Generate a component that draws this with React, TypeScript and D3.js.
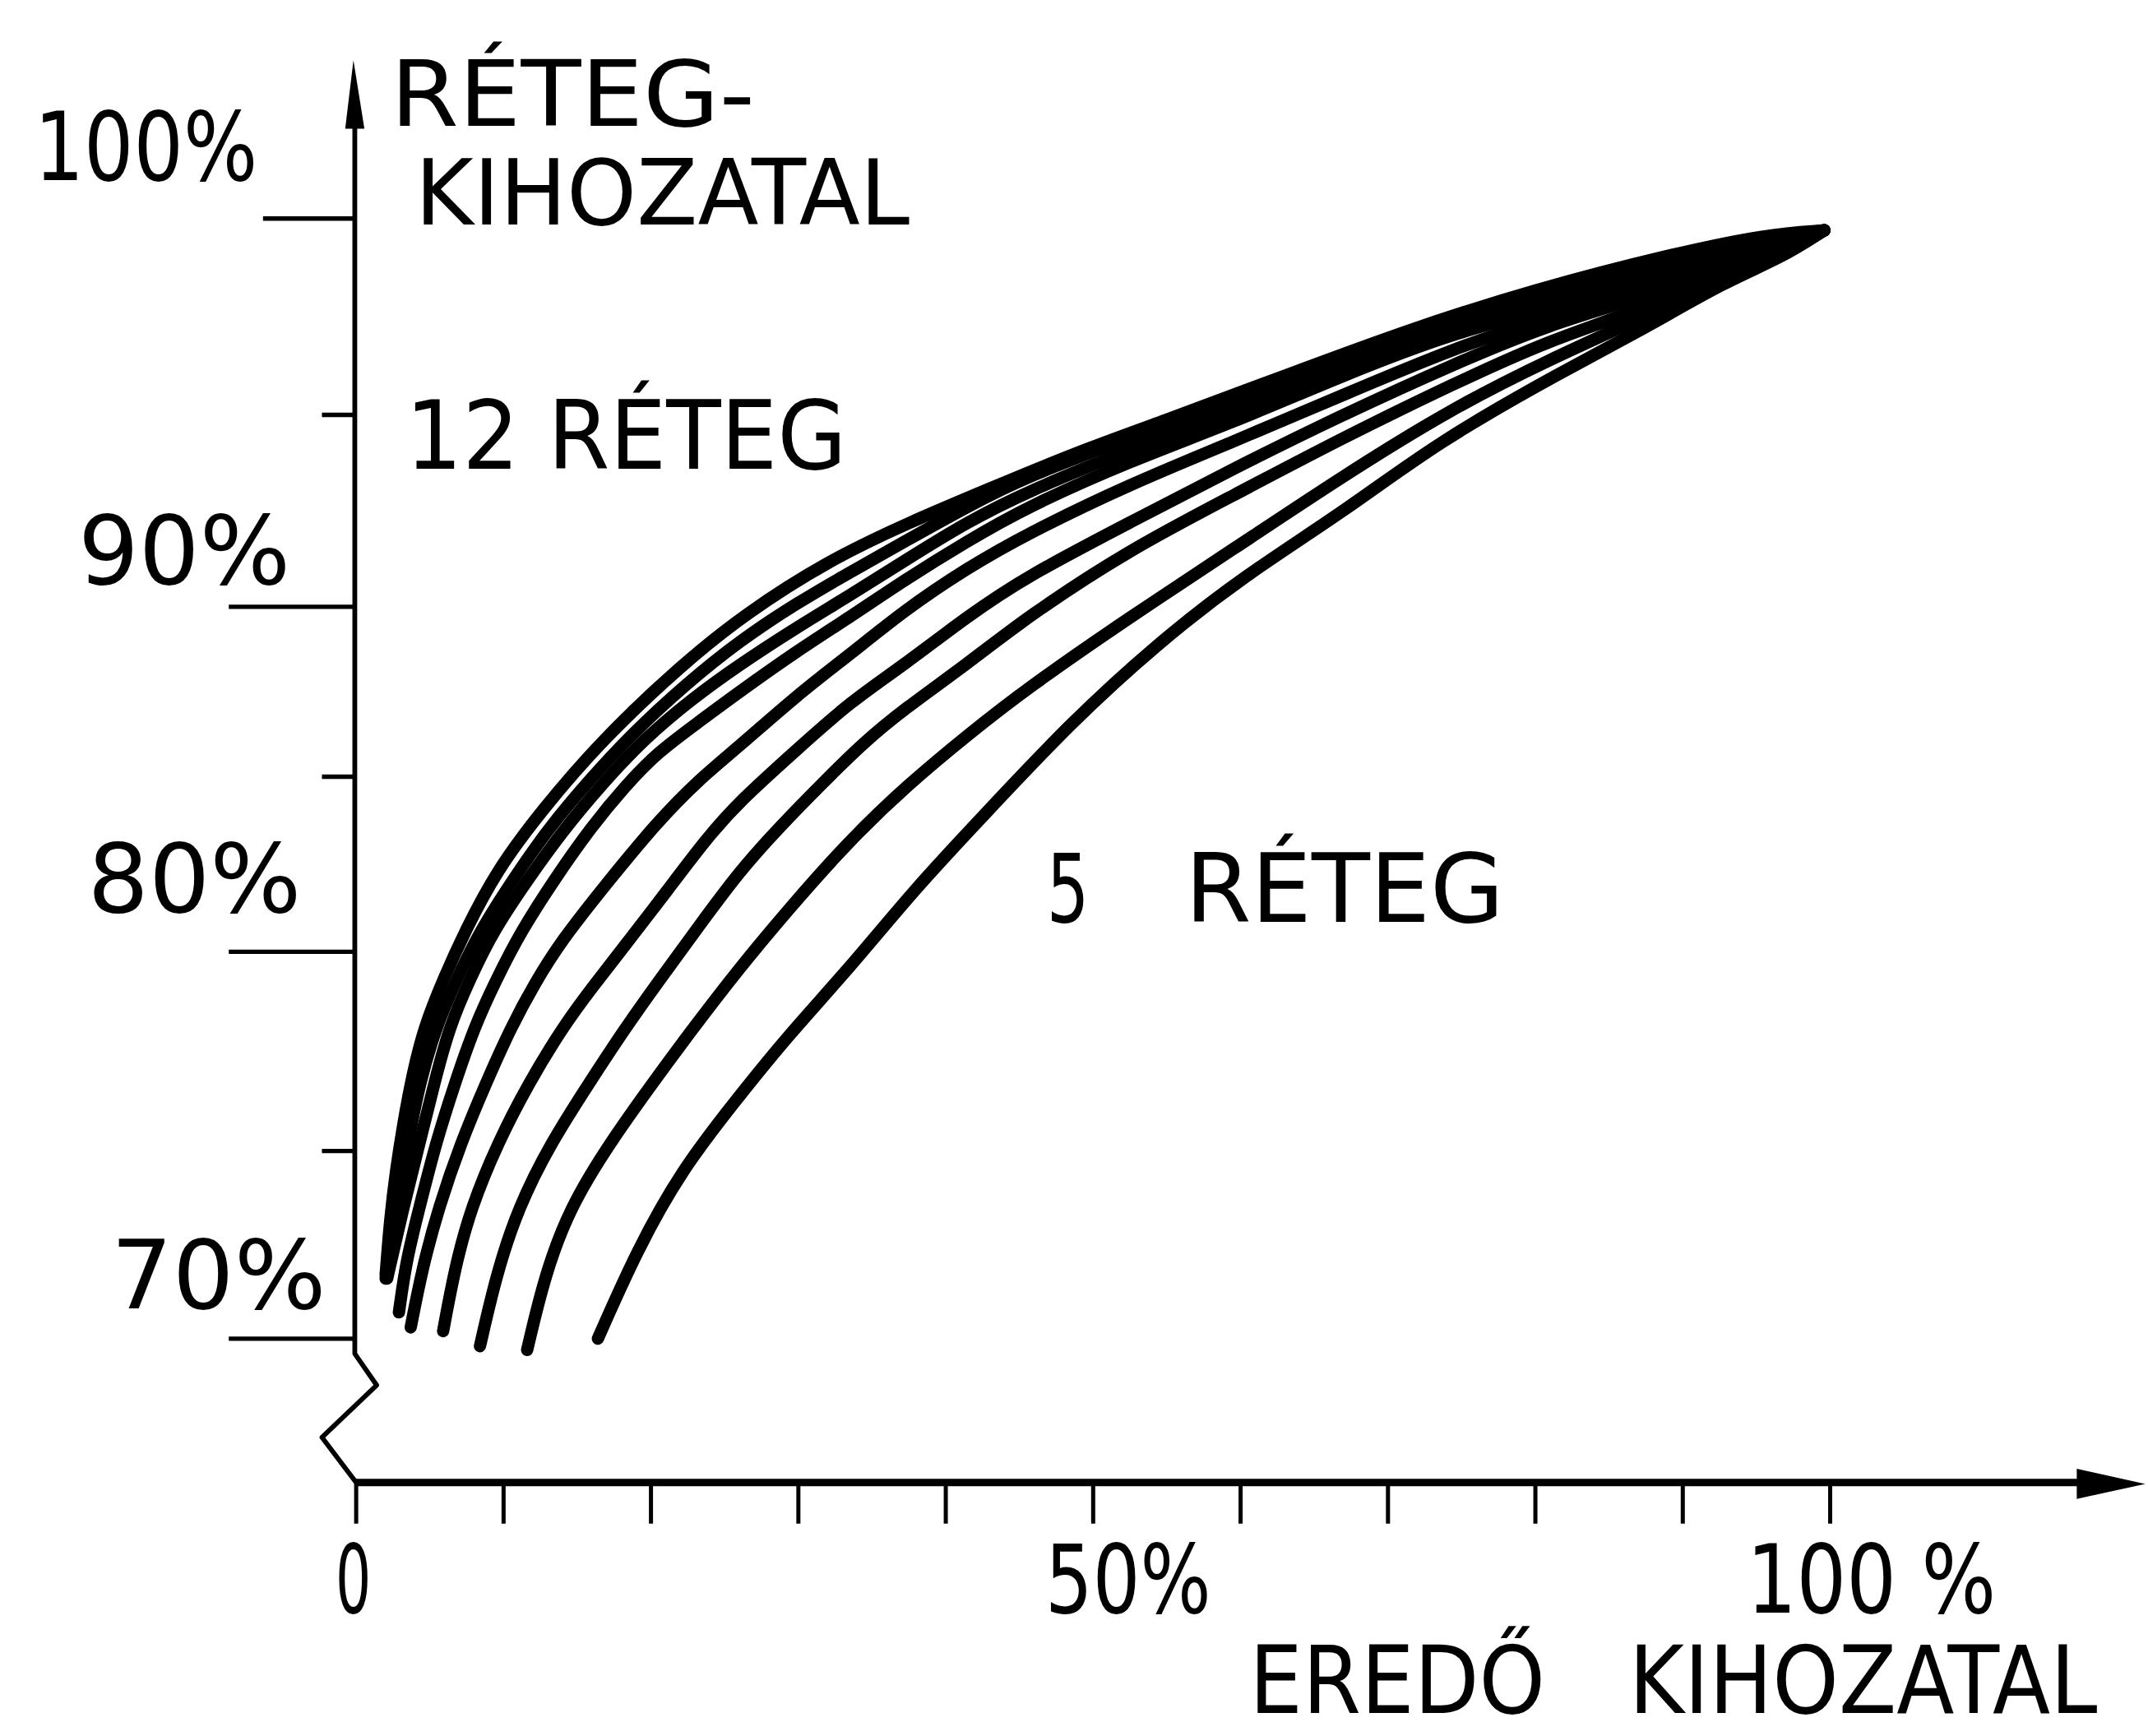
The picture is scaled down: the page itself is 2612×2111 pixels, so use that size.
import React from 'react';
import * as d3 from 'd3';

// picture size and the drawing units used inside the svg
const W = 2612;
const H = 2111;
const VW = 1568;
const VH = 1267;

// axis values
const xTickValues = [0, 10, 20, 30, 40, 50, 60, 70, 80, 90, 100];
const yTickValues = [70, 75, 80, 85, 90, 95, 100];

// tick labels
const xLabels = [
  { v: 0, text: '0' },
  { v: 50, text: '50%' },
  { v: 100, text: '100 %' },
];
const yLabels = [
  { v: 100, text: '100%' },
  { v: 90, text: '90%' },
  { v: 80, text: '80%' },
  { v: 70, text: '70%' },
];

// curves: [eredő kihozatal %, réteg-kihozatal %], from 12 réteg (top) to 5 réteg (bottom)
const curve1 = [[2.0, 71.7], [2.3, 73.2], [2.7, 74.5], [3.2, 75.7], [3.8, 76.9], [4.6, 78.1], [5.9, 79.3], [7.4, 80.6], [9.5, 82.3], [12.5, 84.0], [16.7, 86.1], [22.1, 88.3], [26.4, 89.8], [32.0, 91.2], [37.5, 92.2], [43.1, 93.1], [48.7, 94.0], [54.5, 94.8], [63.0, 96.0], [71.6, 97.2], [80.0, 98.2], [89.3, 99.1], [95.7, 99.6], [99.6, 99.7]];
const curve2 = [[2.0, 71.6], [2.8, 73.5], [3.5, 75.2], [4.3, 76.7], [5.4, 78.1], [6.8, 79.3], [8.4, 80.6], [10.7, 82.1], [13.0, 83.5], [15.8, 84.9], [18.8, 86.3], [22.3, 87.7], [26.0, 89.0], [29.9, 90.1], [33.5, 90.9], [37.2, 91.7], [41.4, 92.6], [45.5, 93.4], [52.5, 94.4], [59.5, 95.4], [66.9, 96.4], [74.5, 97.5], [80.9, 98.1], [87.4, 98.9], [93.5, 99.4], [99.6, 99.7]];
const curve3 = [[2.1, 71.6], [3.2, 73.5], [4.3, 75.2], [5.3, 76.7], [6.3, 78.1], [7.7, 79.3], [9.3, 80.6], [11.7, 82.1], [14.1, 83.5], [16.7, 84.8], [19.5, 86.1], [22.8, 87.3], [26.0, 88.3], [29.9, 89.4], [33.5, 90.3], [37.2, 91.2], [41.4, 92.2], [45.5, 93.0], [52.5, 94.1], [59.5, 95.1], [66.9, 96.3], [74.5, 97.3], [80.9, 97.9], [87.4, 98.7], [93.5, 99.3], [99.6, 99.7]];
const curve4 = [[2.9, 70.7], [3.4, 72.1], [4.3, 73.5], [5.4, 75.2], [6.7, 76.7], [8.0, 78.1], [9.5, 79.3], [11.2, 80.6], [13.5, 82.1], [16.0, 83.6], [18.4, 84.8], [20.4, 85.7], [23.2, 86.6], [26.0, 87.5], [29.9, 88.7], [33.5, 89.7], [37.2, 90.7], [41.4, 91.7], [45.5, 92.6], [52.5, 93.8], [59.5, 94.8], [66.9, 96.0], [74.5, 97.1], [80.9, 97.7], [87.4, 98.5], [93.5, 99.1], [99.6, 99.7]];
const curve5 = [[3.7, 70.3], [4.5, 71.9], [5.6, 73.5], [7.1, 75.2], [8.8, 76.7], [10.5, 78.1], [12.1, 79.2], [13.9, 80.3], [16.7, 81.8], [20.4, 83.7], [23.2, 84.9], [26.0, 85.9], [29.9, 87.4], [33.5, 88.6], [37.2, 89.9], [41.4, 91.0], [45.5, 91.9], [52.5, 93.2], [59.5, 94.3], [66.9, 95.5], [74.5, 96.7], [80.9, 97.5], [87.4, 98.3], [93.5, 99.0], [99.6, 99.7]];
const curve6 = [[5.9, 70.2], [6.7, 71.9], [7.8, 73.5], [9.6, 75.2], [11.7, 76.7], [14.0, 78.1], [16.0, 79.1], [18.1, 80.1], [21.2, 81.8], [23.7, 83.2], [26.0, 84.3], [29.9, 85.8], [33.5, 87.2], [37.2, 88.3], [41.4, 89.7], [45.5, 90.8], [52.5, 92.2], [59.5, 93.6], [66.9, 95.0], [74.5, 96.3], [80.9, 97.3], [87.4, 98.0], [93.5, 98.9], [99.6, 99.7]];
const curve7 = [[8.4, 69.8], [9.5, 71.7], [11.0, 73.5], [13.2, 75.2], [15.8, 76.7], [18.1, 78.0], [20.4, 79.2], [23.2, 80.7], [26.0, 82.3], [28.8, 83.6], [31.6, 84.8], [34.4, 86.0], [37.2, 87.0], [41.4, 88.3], [45.5, 89.7], [52.5, 91.5], [59.5, 92.9], [66.9, 94.4], [74.5, 95.8], [80.9, 96.9], [87.4, 97.7], [93.5, 98.8], [99.6, 99.7]];
const curve8 = [[11.6, 69.7], [12.8, 71.7], [14.5, 73.5], [17.2, 75.2], [20.1, 76.7], [22.7, 78.0], [25.8, 79.5], [29.3, 81.2], [33.5, 83.2], [37.5, 84.8], [41.4, 86.2], [45.5, 87.6], [52.5, 89.7], [59.5, 91.5], [66.9, 93.4], [74.5, 95.2], [80.9, 96.4], [87.4, 97.5], [93.5, 98.6], [99.6, 99.7]];
const curve9 = [[16.4, 70.0], [19.1, 72.4], [22.1, 74.5], [25.6, 76.2], [29.3, 77.9], [33.5, 79.6], [37.9, 81.8], [42.8, 84.0], [48.5, 86.6], [54.3, 88.9], [60.2, 90.8], [67.1, 92.5], [73.4, 94.3], [81.8, 96.1], [87.4, 97.2], [92.9, 98.4], [96.7, 99.0], [99.6, 99.7]];
const curves = [curve1, curve2, curve3, curve4, curve5, curve6, curve7, curve8, curve9];

// the hand drawn y axis is not evenly spaced, so its ticks are pinned one by one
const yStops = [977, 840, 694.6, 566.9, 442.9, 302.8, 159.5];
const originY = 1082;
const font = "'DejaVu Sans', 'Liberation Sans', sans-serif";

const T = ({ x, y, w, size = 70, children }) => (
  <text x={x} y={y} textLength={w} lengthAdjust="spacingAndGlyphs" fontFamily={font} fontSize={size} fill="#000">
    {children}
  </text>
);

export default function App() {
  const x = d3.scaleLinear().domain([0, 100]).range([260, 1336]);
  const y = d3.scaleLinear().domain(yTickValues).range(yStops);
  // the drawing is freehand, a B-spline smooths the read-off points the same way
  const line = d3
    .line<number[]>()
    .x(d => x(d[0]))
    .y(d => y(d[1]))
    .curve(d3.curveBasis);

  const x0 = x(0) - 1;
  // label boxes: left edge, width, baseline offset from the tick
  const yLabelPos = {
    100: { lx: 25, w: 163, dy: -28 },
    90: { lx: 57, w: 155, dy: -17 },
    80: { lx: 64, w: 156, dy: -29 },
    70: { lx: 81, w: 157, dy: -22 },
  };
  const xLabelPos = {
    0: { dx: -15, w: 26 },
    50: { dx: -35, w: 121 },
    100: { dx: -61, w: 182 },
  };

  return (
    <svg
      width={W}
      height={H}
      viewBox={`0 0 ${VW} ${VH}`}
      preserveAspectRatio="none"
      style={{ position: 'absolute', left: 0, top: 0, background: '#fff' }}
    >
      <rect x={0} y={0} width={VW} height={VH} fill="#fff" />

      {/* y axis with break */}
      <path
        d={`M${x0},92 L${x0},988 L${x0 + 16},1011 L${x0 - 24},1049 L${x0 + 1},${originY}`}
        fill="none"
        stroke="#000"
        strokeWidth={3.5}
        strokeLinejoin="round"
      />
      <path d={`M${x0 - 1},44 L${x0 + 7},94 L${x0 - 7},94 Z`} fill="#000" />
      {yTickValues.map(v => {
        const len = v === 100 ? 67 : v % 10 === 0 ? 92 : 24;
        return (
          <line key={v} x1={x0 - len} x2={x0} y1={y(v)} y2={y(v)} stroke="#000" strokeWidth={3.2} />
        );
      })}

      {/* x axis */}
      <line x1={x0} x2={1520} y1={originY} y2={originY} stroke="#000" strokeWidth={5.5} />
      <path d={`M1566,${originY + 1} L1516,${originY - 10} L1516,${originY + 12} Z`} fill="#000" />
      {xTickValues.map(v => (
        <line key={v} x1={x(v)} x2={x(v)} y1={originY} y2={originY + 30} stroke="#000" strokeWidth={3} />
      ))}

      {/* curves */}
      {curves.map((c, i) => (
        <path key={i} d={line(c)} fill="none" stroke="#000" strokeWidth={9} strokeLinecap="round" strokeLinejoin="round" />
      ))}

      {/* tick labels */}
      {yLabels.map(l => {
        const p = yLabelPos[l.v];
        return (
          <T key={l.v} x={p.lx} y={y(l.v) + p.dy} w={p.w}>{l.text}</T>
        );
      })}
      {xLabels.map(l => {
        const p = xLabelPos[l.v];
        return (
          <T key={l.v} x={x(l.v) + p.dx} y={1177} w={p.w}>{l.text}</T>
        );
      })}

      {/* axis titles and curve labels */}
      <T x={285} y={92} w={266} size={66}>RÉTEG-</T>
      <T x={303} y={164} w={361} size={66}>KIHOZATAL</T>
      <T x={296} y={342} w={322}>12 RÉTEG</T>
      <T x={764} y={673} w={31}>5</T>
      <T x={865} y={673} w={233}>RÉTEG</T>
      <T x={912} y={1250} w={216} size={68}>EREDŐ</T>
      <T x={1189} y={1250} w={342} size={68}>KIHOZATAL</T>
    </svg>
  );
}
